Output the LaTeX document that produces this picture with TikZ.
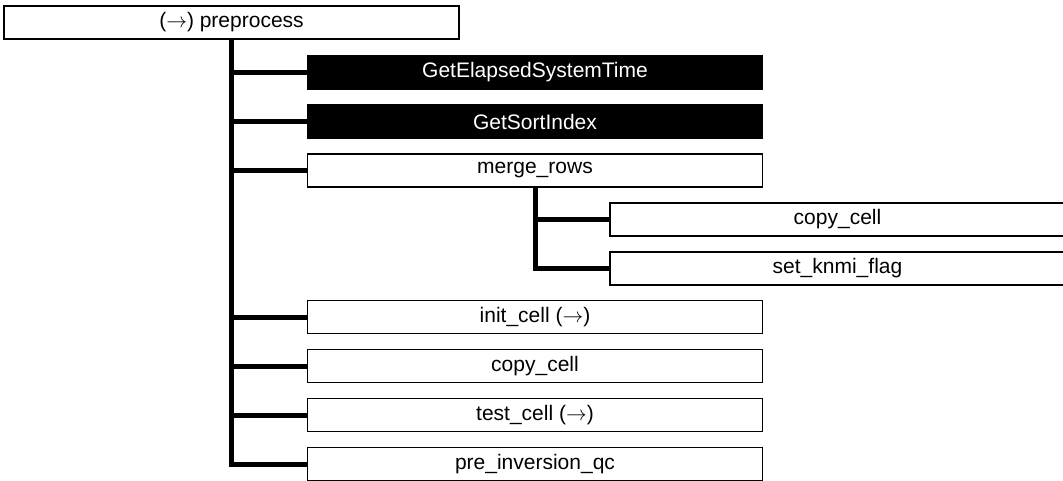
\documentclass[tikz,border=0pt]{standalone}
\usepackage{fontspec}
\setmainfont{Liberation Sans}

\begin{document}
\begin{tikzpicture}[x=1pt, y=-1pt,
    callbox/.style={rectangle, draw, line width=1.6pt, minimum width=455pt, minimum height=33pt, inner sep=0pt, font=\fontsize{21}{25}\selectfont},
    libbox/.style={callbox, fill=black, text=white},
    branch/.style={line width=5pt}
]
    \useasboundingbox (0,0) rectangle (1063,481);

    % Root routine
    \node[callbox] (pre) at (231.5, 22.5) {($\rightarrow$) preprocess};

    % Calls of preprocess
    \node[libbox] (elapsed) at (535, 72.5) {GetElapsedSystemTime};
    \node[libbox] (sortidx) at (535, 121.5) {GetSortIndex};
    \node[callbox] (merge) at (535, 170.5) {merge\_rows};
    \node[callbox] (initc) at (535, 317) {init\_cell ($\rightarrow$)};
    \node[callbox] (copyc) at (535, 366) {copy\_cell};
    \node[callbox] (testc) at (535, 415) {test\_cell ($\rightarrow$)};
    \node[callbox] (preinv) at (535, 464) {pre\_inversion\_qc};

    % Calls of merge_rows
    \node[callbox] (mcopy) at (837.5, 219.5) {copy\_cell};
    \node[callbox] (knmi) at (837.5, 268.5) {set\_knmi\_flag};

    % Branches
    \foreach \c in {elapsed, sortidx, merge, initc, copyc, testc, preinv}
        \draw[branch] (pre.south) |- (\c.west);
    \foreach \c in {mcopy, knmi}
        \draw[branch] (merge.south) |- (\c.west);
\end{tikzpicture}
\end{document}
